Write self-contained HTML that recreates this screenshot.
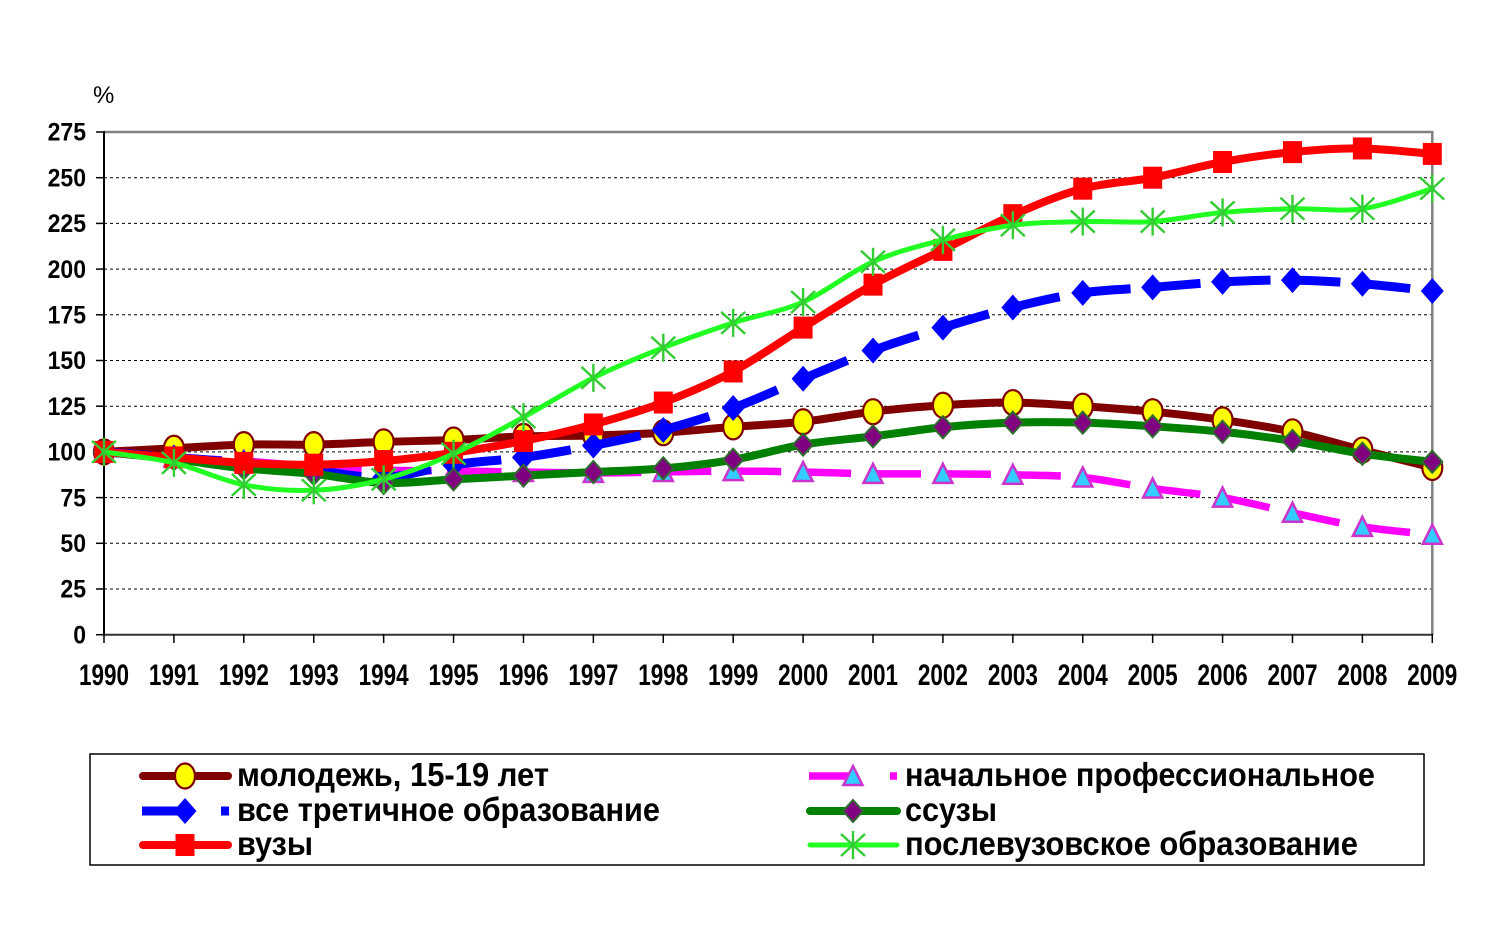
<!DOCTYPE html>
<html>
<head>
<meta charset="utf-8">
<style>
  html, body { margin: 0; padding: 0; background: #ffffff; }
  svg { display: block; }
  .ax { font-family: "Liberation Sans", Arial, sans-serif; font-weight: bold; fill: #000; }
  .lg { font-family: "Liberation Sans", Arial, sans-serif; font-weight: bold; font-size: 33px; fill: #000; }
</style>
</head>
<body>
<svg id="chart" width="1500" height="925" viewBox="0 0 1500 925" xmlns="http://www.w3.org/2000/svg">
  <rect x="0" y="0" width="1500" height="925" fill="#ffffff"/>

  <g stroke="#000" stroke-width="1" stroke-dasharray="3 3" fill="none">
    <line x1="104" y1="589.0" x2="1432" y2="589.0"/>
    <line x1="104" y1="543.3" x2="1432" y2="543.3"/>
    <line x1="104" y1="497.6" x2="1432" y2="497.6"/>
    <line x1="104" y1="451.9" x2="1432" y2="451.9"/>
    <line x1="104" y1="406.2" x2="1432" y2="406.2"/>
    <line x1="104" y1="360.5" x2="1432" y2="360.5"/>
    <line x1="104" y1="314.8" x2="1432" y2="314.8"/>
    <line x1="104" y1="269.1" x2="1432" y2="269.1"/>
    <line x1="104" y1="223.4" x2="1432" y2="223.4"/>
    <line x1="104" y1="177.7" x2="1432" y2="177.7"/>
  </g>

  <line x1="104" y1="132" x2="1433" y2="132" stroke="#808080" stroke-width="2.5"/>
  <line x1="1432.3" y1="131" x2="1432.3" y2="635" stroke="#808080" stroke-width="2.5"/>
  <line x1="104" y1="131" x2="104" y2="636" stroke="#000" stroke-width="2"/>
  <line x1="103" y1="634.7" x2="1433" y2="634.7" stroke="#333" stroke-width="2"/>

  <g stroke="#000" stroke-width="1.5">
    <line x1="96" y1="634.7" x2="104" y2="634.7"/>
    <line x1="96" y1="589.0" x2="104" y2="589.0"/>
    <line x1="96" y1="543.3" x2="104" y2="543.3"/>
    <line x1="96" y1="497.6" x2="104" y2="497.6"/>
    <line x1="96" y1="451.9" x2="104" y2="451.9"/>
    <line x1="96" y1="406.2" x2="104" y2="406.2"/>
    <line x1="96" y1="360.5" x2="104" y2="360.5"/>
    <line x1="96" y1="314.8" x2="104" y2="314.8"/>
    <line x1="96" y1="269.1" x2="104" y2="269.1"/>
    <line x1="96" y1="223.4" x2="104" y2="223.4"/>
    <line x1="96" y1="177.7" x2="104" y2="177.7"/>
    <line x1="96" y1="132.0" x2="104" y2="132.0"/>
  </g>
  <g stroke="#000" stroke-width="1.5">
    <line x1="104" y1="634" x2="104" y2="643"/>
    <line x1="173.91" y1="634" x2="173.91" y2="643"/>
    <line x1="243.82" y1="634" x2="243.82" y2="643"/>
    <line x1="313.73" y1="634" x2="313.73" y2="643"/>
    <line x1="383.64" y1="634" x2="383.64" y2="643"/>
    <line x1="453.55" y1="634" x2="453.55" y2="643"/>
    <line x1="523.46" y1="634" x2="523.46" y2="643"/>
    <line x1="593.37" y1="634" x2="593.37" y2="643"/>
    <line x1="663.28" y1="634" x2="663.28" y2="643"/>
    <line x1="733.19" y1="634" x2="733.19" y2="643"/>
    <line x1="803.1" y1="634" x2="803.1" y2="643"/>
    <line x1="873.01" y1="634" x2="873.01" y2="643"/>
    <line x1="942.92" y1="634" x2="942.92" y2="643"/>
    <line x1="1012.83" y1="634" x2="1012.83" y2="643"/>
    <line x1="1082.74" y1="634" x2="1082.74" y2="643"/>
    <line x1="1152.65" y1="634" x2="1152.65" y2="643"/>
    <line x1="1222.56" y1="634" x2="1222.56" y2="643"/>
    <line x1="1292.47" y1="634" x2="1292.47" y2="643"/>
    <line x1="1362.38" y1="634" x2="1362.38" y2="643"/>
    <line x1="1432.29" y1="634" x2="1432.29" y2="643"/>
  </g>

  <text x="93" y="103" font-family="Liberation Sans, Arial, sans-serif" font-size="24" fill="#000">%</text>

  <g class="ax" font-size="23" text-anchor="end">
    <text transform="translate(86,643.5) scale(1,1.07)">0</text>
    <text transform="translate(86,597.7) scale(1,1.07)">25</text>
    <text transform="translate(86,552.0) scale(1,1.07)">50</text>
    <text transform="translate(86,506.3) scale(1,1.07)">75</text>
    <text transform="translate(86,460.6) scale(1,1.07)">100</text>
    <text transform="translate(86,414.9) scale(1,1.07)">125</text>
    <text transform="translate(86,369.2) scale(1,1.07)">150</text>
    <text transform="translate(86,323.5) scale(1,1.07)">175</text>
    <text transform="translate(86,277.8) scale(1,1.07)">200</text>
    <text transform="translate(86,232.1) scale(1,1.07)">225</text>
    <text transform="translate(86,186.4) scale(1,1.07)">250</text>
    <text transform="translate(86,140.7) scale(1,1.07)">275</text>
  </g>

  <g class="ax" font-size="22.5" text-anchor="middle">
    <text transform="translate(104,685) scale(1,1.3)">1990</text>
    <text transform="translate(173.91,685) scale(1,1.3)">1991</text>
    <text transform="translate(243.82,685) scale(1,1.3)">1992</text>
    <text transform="translate(313.73,685) scale(1,1.3)">1993</text>
    <text transform="translate(383.64,685) scale(1,1.3)">1994</text>
    <text transform="translate(453.55,685) scale(1,1.3)">1995</text>
    <text transform="translate(523.46,685) scale(1,1.3)">1996</text>
    <text transform="translate(593.37,685) scale(1,1.3)">1997</text>
    <text transform="translate(663.28,685) scale(1,1.3)">1998</text>
    <text transform="translate(733.19,685) scale(1,1.3)">1999</text>
    <text transform="translate(803.1,685) scale(1,1.3)">2000</text>
    <text transform="translate(873.01,685) scale(1,1.3)">2001</text>
    <text transform="translate(942.92,685) scale(1,1.3)">2002</text>
    <text transform="translate(1012.83,685) scale(1,1.3)">2003</text>
    <text transform="translate(1082.74,685) scale(1,1.3)">2004</text>
    <text transform="translate(1152.65,685) scale(1,1.3)">2005</text>
    <text transform="translate(1222.56,685) scale(1,1.3)">2006</text>
    <text transform="translate(1292.47,685) scale(1,1.3)">2007</text>
    <text transform="translate(1362.38,685) scale(1,1.3)">2008</text>
    <text transform="translate(1432.29,685) scale(1,1.3)">2009</text>
  </g>

  <g id="series"></g>

  <rect x="90" y="754" width="1334" height="111" fill="#fff" stroke="#000" stroke-width="1.5"/>
  <g id="legendMarks"></g>
  <text class="lg" x="237" y="786" textLength="312" lengthAdjust="spacingAndGlyphs">молодежь, 15-19 лет</text>
  <text class="lg" x="237" y="821" textLength="423" lengthAdjust="spacingAndGlyphs">все третичное образование</text>
  <text class="lg" x="237" y="855" textLength="76" lengthAdjust="spacingAndGlyphs">вузы</text>
  <text class="lg" x="905" y="786" textLength="470" lengthAdjust="spacingAndGlyphs">начальное профессиональное</text>
  <text class="lg" x="905" y="821" textLength="92" lengthAdjust="spacingAndGlyphs">ссузы</text>
  <text class="lg" x="905" y="855" textLength="453" lengthAdjust="spacingAndGlyphs">послевузовское образование</text>
</svg>

<script>
(function(){
  var NS = "http://www.w3.org/2000/svg";
  var g = document.getElementById("series");
  var lg = document.getElementById("legendMarks");
  function X(i){ return 104 + i*69.91; }
  function Y(v){ return 634.7 - v*1.828; }
  function el(parent, name, attrs){
    var e = document.createElementNS(NS, name);
    for (var k in attrs) e.setAttribute(k, attrs[k]);
    parent.appendChild(e);
    return e;
  }
  function pts(data){ return data.map(function(v,i){ return [X(i), Y(v)]; }); }
  function segPath(P, i){
    var p0 = P[Math.max(i-1,0)], p1 = P[i], p2 = P[i+1], p3 = P[Math.min(i+2,P.length-1)];
    var c1 = [p1[0] + (p2[0]-p0[0])/6, p1[1] + (p2[1]-p0[1])/6];
    var c2 = [p2[0] - (p3[0]-p1[0])/6, p2[1] - (p3[1]-p1[1])/6];
    return "M"+p1[0].toFixed(2)+","+p1[1].toFixed(2)+" C"+c1[0].toFixed(2)+","+c1[1].toFixed(2)+" "+c2[0].toFixed(2)+","+c2[1].toFixed(2)+" "+p2[0].toFixed(2)+","+p2[1].toFixed(2);
  }
  function fullPath(P){
    var d = "M"+P[0][0].toFixed(2)+","+P[0][1].toFixed(2);
    for (var i=0;i<P.length-1;i++){
      d += " " + segPath(P,i).replace(/^M[^C]*/,"");
    }
    return d;
  }
  function marker(parent, type, x, y){
    if (type === "circle"){
      el(parent,"ellipse",{cx:x,cy:y,rx:10,ry:12.5,fill:"#ffff00",stroke:"#800000","stroke-width":2.2});
    } else if (type === "square"){
      el(parent,"rect",{x:x-9.5,y:y-11,width:19,height:22,fill:"#ff0000"});
    } else if (type === "bdiamond"){
      el(parent,"polygon",{points:(x)+","+(y-13)+" "+(x+11.5)+","+y+" "+x+","+(y+13)+" "+(x-11.5)+","+y,fill:"#0000ff"});
    } else if (type === "pdiamond"){
      el(parent,"polygon",{points:(x)+","+(y-11)+" "+(x+10)+","+y+" "+x+","+(y+11)+" "+(x-10)+","+y,fill:"#800080",stroke:"#2f6b2f","stroke-width":2});
    } else if (type === "triangle"){
      el(parent,"polygon",{points:(x)+","+(y-10)+" "+(x+9.5)+","+(y+9)+" "+(x-9.5)+","+(y+9),fill:"#33ccff",stroke:"#cc33cc","stroke-width":2.5,"stroke-linejoin":"miter"});
    } else if (type === "star"){
      var s = {stroke:"#33cc33","stroke-width":2.4};
      el(parent,"line",Object.assign({x1:x,y1:y-14,x2:x,y2:y+14},s));
      el(parent,"line",Object.assign({x1:x-12,y1:y-11,x2:x+12,y2:y+11},s));
      el(parent,"line",Object.assign({x1:x-12,y1:y+11,x2:x+12,y2:y-11},s));
    }
  }

  var series = [
    {data:[100,102,104,104,105.5,106.5,108.5,109,110.5,113.7,116.5,122,125.5,127,125,122,117.5,111,101,91.5],
     color:"#800000", w:8, dash:false, m:"circle"},
    {data:[100,97,95,92,90,89.5,89,88.5,89,89.5,89,88,88,87.5,86,80,75,66.7,59,54.7],
     color:"#ff00ff", w:7.5, dash:true, m:"triangle"},
    {data:[100,97,94,90,86,93,97,103.5,112,124,140,155.5,168,179,187,190,193,194,192,188],
     color:"#0000ff", w:9, dash:true, m:"bdiamond"},
    {data:[100,96,91,88,83,85,87,89,91,95.7,104,108.5,113.5,116,116,114,111,106,99,94.6],
     color:"#008000", w:8, dash:false, m:"pdiamond"},
    {data:[100,97,94,93,95,99.5,106,115,127,144,168,191.5,210.5,229.5,244,250,258.6,264,266,263],
     color:"#ff0000", w:8, dash:false, m:"square"},
    {data:[100,94,82,79,85,99,119,140.5,157,170.6,182,204,216,224,226,226,231,233,233,244],
     color:"#22ff22", w:5, dash:false, m:"star"}
  ];

  series.forEach(function(s){
    var P = pts(s.data);
    if (s.dash){
      for (var i=0;i<P.length-1;i++){
        el(g,"path",{d:segPath(P,i),fill:"none",stroke:s.color,"stroke-width":s.w,"stroke-dasharray":"48 3000","stroke-linecap":"butt"});
      }
    } else {
      el(g,"path",{d:fullPath(P),fill:"none",stroke:s.color,"stroke-width":s.w,"stroke-linejoin":"round","stroke-linecap":"round"});
    }
    P.forEach(function(p){ marker(g, s.m, p[0], p[1]); });
  });

  function lline(x1,x2,y,color,w){ el(lg,"line",{x1:x1,y1:y,x2:x2,y2:y,stroke:color,"stroke-width":w,"stroke-linecap":"round"}); }
  lline(143,228,776,"#800000",8); marker(lg,"circle",185,776);
  el(lg,"line",{x1:142,y1:811,x2:192,y2:811,stroke:"#0000ff","stroke-width":9});
  el(lg,"line",{x1:221,y1:811,x2:229,y2:811,stroke:"#0000ff","stroke-width":9});
  marker(lg,"bdiamond",185,811);
  lline(143,228,845,"#ff0000",8); marker(lg,"square",185,845);
  el(lg,"line",{x1:809,y1:776,x2:856,y2:776,stroke:"#ff00ff","stroke-width":7.5});
  el(lg,"line",{x1:890,y1:776,x2:897,y2:776,stroke:"#ff00ff","stroke-width":7.5});
  marker(lg,"triangle",853,776);
  lline(810,897,811,"#008000",8); marker(lg,"pdiamond",853,811);
  lline(810,897,845,"#22ff22",5); marker(lg,"star",853,845);
})();
</script>
</body>
</html>
